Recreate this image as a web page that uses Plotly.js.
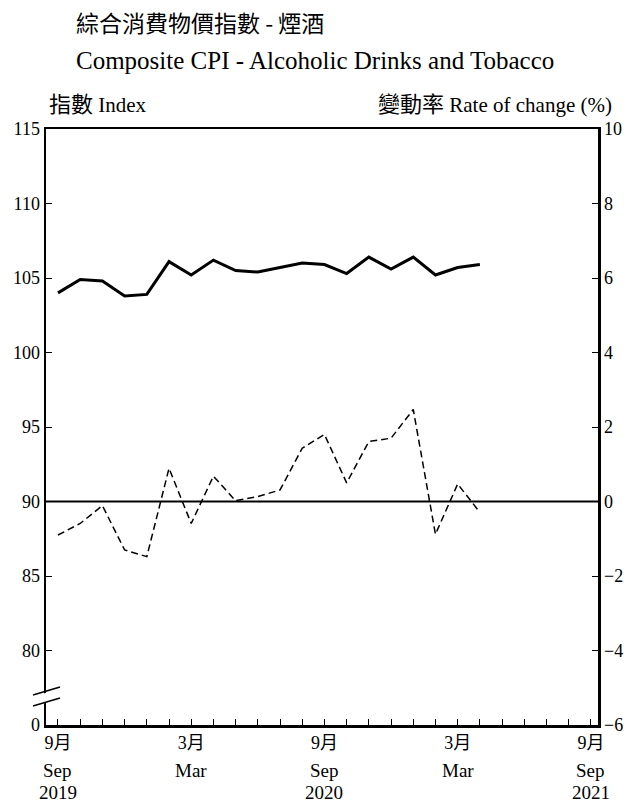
<!DOCTYPE html>
<html>
<head>
<meta charset="utf-8">
<script src="https://cdn.plot.ly/plotly-3.0.1.min.js"></script>
<style>html,body{margin:0;padding:0;background:#fff;}#chart{width:626px;height:802px;}</style>
</head>
<body>
<div id="chart"></div>
<script>
// Months indexed from Sep 2019 = 0
var months = [0,1,2,3,4,5,6,7,8,9,10,11,12,13,14,15,16,17,18,19];
var monthLabels = ['2019-09','2019-10','2019-11','2019-12','2020-01','2020-02','2020-03','2020-04','2020-05','2020-06','2020-07','2020-08','2020-09','2020-10','2020-11','2020-12','2021-01','2021-02','2021-03','2021-04'];
var indexValues = [104.0,104.9,104.8,103.8,103.9,106.1,105.2,106.2,105.5,105.4,105.7,106.0,105.9,105.3,106.4,105.6,106.4,105.2,105.7,105.9];
var rateValues = [-0.90,-0.59,-0.11,-1.30,-1.48,0.89,-0.59,0.68,0.02,0.13,0.31,1.43,1.80,0.50,1.61,1.70,2.47,-0.88,0.47,-0.29];

var xTickVals = [0,1,2,3,4,5,6,7,8,9,10,11,12,13,14,15,16,17,18,19,20,21,22,23,24];
var labelPos = [0,6,12,18,24];
var labelCn = ['9月','3月','9月','3月','9月'];
var labelEn = ['Sep','Mar','Sep','Mar','Sep'];
var labelYear = ['2019','','2020','','2021'];

var leftTickVals = [75,80,85,90,95,100,105,110,115];
var leftTickText = ['0','80','85','90','95','100','105','110','115'];
var rightTickVals = [-6,-4,-2,0,2,4,6,8,10];

var SERIF = '"Liberation Serif","Times New Roman","Noto Sans CJK TC",serif';
var CJK = '"Noto Sans CJK TC","Liberation Serif",sans-serif';
function cjk(t, size){ return '<span style="font-family:Noto Sans CJK TC;font-size:' + size + 'px">' + t + '</span>'; }

var xTickText = xTickVals.map(function(v){
  var i = labelPos.indexOf(v);
  return i >= 0 ? labelCn[i] : '';
});

var traces = [
  {x: months, y: indexValues, type: 'scatter', mode: 'lines', name: 'Index',
   line: {color: '#000', width: 3}, xaxis: 'x', yaxis: 'y', hoverinfo: 'skip'},
  {x: months, y: rateValues, type: 'scatter', mode: 'lines', name: 'Rate of change',
   line: {color: '#000', width: 1.5, dash: '7px,4px'}, xaxis: 'x', yaxis: 'y2', hoverinfo: 'skip'}
];

var W = 626, H = 802, ML = 46, MR = 28, MT = 129, MB = 77;
var PW = W - ML - MR, PH = H - MT - MB;
function px2x(px){ return (px - ML) / PW; }
function py2y(py){ return (H - MB - py) / PH; }

var annotations = [
  {text: '綜合消費物價指數 - 煙酒', xref: 'paper', yref: 'paper', x: px2x(74), y: py2y(22), xanchor: 'left', yanchor: 'middle',
   showarrow: false, font: {family: CJK, size: 23, color: '#000'}},
  {text: 'Composite CPI - Alcoholic Drinks and Tobacco', xref: 'paper', yref: 'paper', x: px2x(74), y: py2y(60), xanchor: 'left', yanchor: 'middle',
   showarrow: false, font: {family: SERIF, size: 25, color: '#000'}},
  {text: cjk('指數', 22) + ' Index', xref: 'paper', yref: 'paper', x: px2x(47), y: py2y(102), xanchor: 'left', yanchor: 'middle',
   showarrow: false, font: {family: SERIF, size: 21, color: '#000'}},
  {text: cjk('變動率', 22) + ' Rate of change (%)', xref: 'paper', yref: 'paper', x: px2x(614), y: py2y(102), xanchor: 'right', yanchor: 'middle',
   showarrow: false, font: {family: SERIF, size: 21, color: '#000'}}
];
labelPos.forEach(function(p, i){
  annotations.push({text: labelEn[i], x: p, xref: 'x', y: 0, yref: 'paper', yanchor: 'top', yshift: -33,
    showarrow: false, font: {family: SERIF, size: 19, color: '#000'}});
  if (labelYear[i]) annotations.push({text: labelYear[i], x: p, xref: 'x', y: 0, yref: 'paper', yanchor: 'top', yshift: -55,
    showarrow: false, font: {family: SERIF, size: 19, color: '#000'}});
});

var shapes = [
  {type: 'line', xref: 'paper', yref: 'y2', x0: 0, x1: 1, y0: 0, y1: 0, line: {color: '#000', width: 2}, layer: 'above'},
  {type: 'path', xref: 'paper', yref: 'paper', layer: 'above', line: {width: 0}, fillcolor: '#fff',
   path: 'M' + px2x(42) + ',' + py2y(694) + ' L' + px2x(52) + ',' + py2y(691) + ' L' + px2x(52) + ',' + py2y(701) + ' L' + px2x(42) + ',' + py2y(704) + ' Z'},
  {type: 'line', xref: 'paper', yref: 'paper', layer: 'above', x0: px2x(33), y0: py2y(695), x1: px2x(60), y1: py2y(687), line: {color: '#000', width: 1.5}},
  {type: 'line', xref: 'paper', yref: 'paper', layer: 'above', x0: px2x(33), y0: py2y(706), x1: px2x(60), y1: py2y(698), line: {color: '#000', width: 1.5}}
];

var layout = {
  width: W, height: H,
  margin: {l: ML, r: MR, t: MT, b: MB, pad: 0},
  paper_bgcolor: '#fff', plot_bgcolor: '#fff',
  showlegend: false,
  font: {family: SERIF, size: 18, color: '#000'},
  xaxis: {range: [-0.54, 24.32], tickmode: 'array', tickvals: xTickVals, ticktext: xTickText,
    ticks: 'inside', ticklen: 6, tickwidth: 1, tickcolor: '#000',
    showline: true, linewidth: 2.5, linecolor: '#000', mirror: true,
    showgrid: false, zeroline: false, fixedrange: true,
    tickfont: {family: SERIF, size: 18, color: '#000'}},
  yaxis: {range: [75, 115], tickmode: 'array', tickvals: leftTickVals, ticktext: leftTickText,
    ticks: 'inside', ticklen: 6, tickwidth: 1, tickcolor: '#000',
    showline: true, linewidth: 2.5, linecolor: '#000',
    showgrid: false, zeroline: false, fixedrange: true,
    tickfont: {family: SERIF, size: 18, color: '#000'}},
  yaxis2: {range: [-6, 10], tickmode: 'array', tickvals: rightTickVals, overlaying: 'y', side: 'right',
    ticks: 'inside', ticklen: 6, tickwidth: 1, tickcolor: '#000',
    showline: true, linewidth: 2.5, linecolor: '#000',
    showgrid: false, zeroline: false, fixedrange: true,
    tickfont: {family: SERIF, size: 18, color: '#000'}},
  annotations: annotations,
  shapes: shapes
};

Plotly.newPlot('chart', traces, layout, {staticPlot: true, displayModeBar: false});
</script>
</body>
</html>
